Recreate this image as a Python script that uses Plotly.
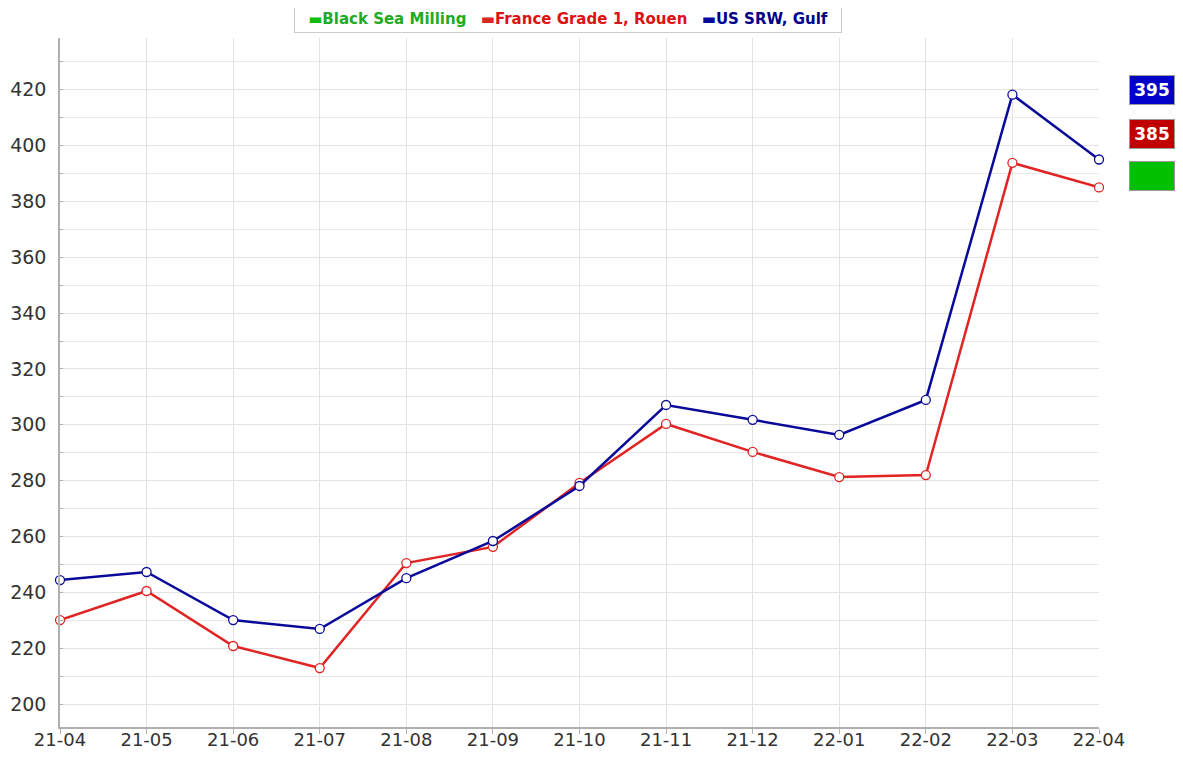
import plotly.graph_objects as go

months = ["21-04", "21-05", "21-06", "21-07", "21-08", "21-09", "21-10",
          "21-11", "21-12", "22-01", "22-02", "22-03", "22-04"]
us_srw_gulf = [244.4, 247.3, 230.1, 226.9, 245.1, 258.4, 278.1,
               307.1, 301.8, 296.4, 308.9, 418.2, 395.0]
france_rouen = [230.1, 240.5, 220.8, 212.9, 250.5, 256.3, 279.2,
                300.3, 290.3, 281.3, 282.0, 393.8, 385.0]
black_sea = [None] * len(months)

series = [
    ("Black Sea Milling", black_sea, "#11bb11", "#22aa22", "#00c000"),
    ("France Grade 1, Rouen", france_rouen, "#e02424", "#dd1111", "#c00000"),
    ("US SRW, Gulf", us_srw_gulf, "#0a0a9a", "#000088", "#0000c8"),
]

fig = go.Figure()
for name, vals, col, tcol, _ in series:
    fig.add_trace(go.Scatter(
        x=months, y=vals, mode="lines+markers", name=name,
        showlegend=False,
        line=dict(color=col, width=2.5),
        marker=dict(symbol="circle", size=9, color="white",
                    line=dict(color=col, width=1.3)),
        cliponaxis=False,
    ))

# legend box built as one annotation
legend_txt = "&nbsp;&nbsp;&nbsp;".join(
    f'<span style="color:{col}">▬</span><span style="color:{tcol}"><b>{name}</b></span>'
    for name, vals, col, tcol, _ in series)
fig.add_annotation(
    xref="paper", yref="paper", x=0.489, y=1.029, xanchor="center",
    yanchor="middle", showarrow=False, text=legend_txt, width=546, height=27,
    bgcolor="white", bordercolor="#cccccc", borderwidth=1, borderpad=0,
    font=dict(size=15, family="DejaVu Sans"),
)

# right-side value badges (stacked: blue, red, green)
badge_y = [0.925, 0.861, 0.799]
order = [series[2], series[1], series[0]]
for (name, vals, col, tcol, bcol), yy in zip(order, badge_y):
    last = next((v for v in reversed(vals) if v is not None), None)
    txt = f"<b>{last:.0f}</b>" if last is not None else " "
    fig.add_annotation(
        xref="paper", yref="paper", x=1.0289, y=yy,
        xanchor="left", yanchor="middle", showarrow=False,
        text=txt, width=42, height=26, bgcolor=bcol,
        bordercolor="#9a9a9a", borderwidth=1,
        font=dict(color="white", size=17, family="DejaVu Sans"),
    )

fig.update_layout(
    width=1167, height=744,
    margin=dict(l=52, r=76, t=30, b=25, autoexpand=False),
    paper_bgcolor="white", plot_bgcolor="white",
    font=dict(family="DejaVu Sans", color="#333333"),
    showlegend=False,
    xaxis=dict(type="category", range=[0, 12], showgrid=True,
               gridcolor="#e2e2e2", gridwidth=1, showline=True,
               linecolor="#b0b0b0", linewidth=2, ticks="outside",
               ticklen=5, tickcolor="#b0b0b0", automargin=False,
               ticklabelstandoff=-10,
               tickfont=dict(size=18, color="#333333"), zeroline=False),
    yaxis=dict(range=[191.8, 438.5], tickmode="array",
               tickvals=list(range(200, 440, 20)),
               showgrid=True, gridcolor="#e2e2e2", showline=True,
               linecolor="#b0b0b0", linewidth=1.5, ticks="",
               automargin=False, ticklabelstandoff=8,
               tickfont=dict(size=19, color="#333333"), zeroline=False,
               minor=dict(dtick=10, showgrid=True, gridcolor="#e8e8e8",
                          ticks="inside", ticklen=3, tickcolor="#b0b0b0")),
)

fig.write_html("out.html")
